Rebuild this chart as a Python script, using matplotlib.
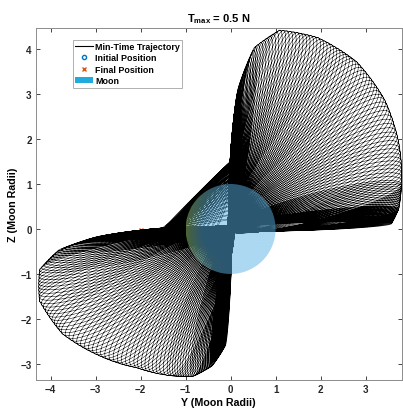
import numpy as np
import matplotlib.pyplot as plt
from matplotlib.patches import Circle, Patch
from matplotlib.lines import Line2D

plt.rcParams['font.family'] = ['Liberation Sans', 'DejaVu Sans']
plt.rcParams['font.weight'] = 'bold'
plt.rcParams['mathtext.fontset'] = 'custom'
plt.rcParams['mathtext.bf'] = 'Liberation Sans:bold'
plt.rcParams['mathtext.rm'] = 'Liberation Sans:bold'

# far tip of each revolution, read off the outer envelope (Moon radii)
# loop number at which the tip passes each point, and the loop half-width there
upper_loop = [0, 12, 25, 36, 44, 55, 67, 78, 88, 98, 112, 132]
upper_tip_y = [0.03, 0.08, 0.20, 0.55, 1.10, 1.95, 2.80, 3.42, 3.74, 3.80, 3.74, 3.58]
upper_tip_z = [1.50, 2.30, 3.20, 4.05, 4.42, 4.25, 3.72, 2.88, 1.90, 1.00, 0.45, 0.12]
upper_halfw = [0.05, 0.07, 0.10, 0.16, 0.24, 0.34, 0.42, 0.44, 0.40, 0.30, 0.18, 0.09]

lower_loop = [0, 12, 24, 33, 41, 50, 60, 69, 78, 87, 96, 108, 125]
lower_tip_y = [-1.55, -2.20, -3.10, -3.85, -4.25, -4.25, -3.75, -2.95, -2.10, -1.35, -0.85, -0.42, -0.12]
lower_tip_z = [0.00, -0.07, -0.22, -0.50, -0.92, -1.60, -2.32, -2.80, -3.08, -3.26, -3.28, -3.05, -2.60]
lower_halfw = [0.05, 0.07, 0.10, 0.16, 0.24, 0.34, 0.42, 0.44, 0.40, 0.32, 0.22, 0.12, 0.06]

# periapsis side of every loop, just past the Moon centre
back_reach = 0.05

# strands crossing the upper-left quadrant: start on Z=0, end on Y=0
bridge_y = [-1.50, -1.48, -1.46, -1.44, -1.42, -1.40, -1.38, -1.35, -1.32, -1.28, -1.25, -1.21,
            -1.17, -1.12, -1.07, -1.02, -0.96, -0.90, -0.82, -0.74, -0.65, -0.55, -0.44, -0.32,
            -1.49, -1.49, -1.48, -1.48, -1.47, -1.46, -1.45, -1.44, -1.42, -1.40, -1.38, -1.36]
bridge_z = [1.50, 1.50, 1.49, 1.49, 1.48, 1.47, 1.46, 1.44, 1.42, 1.40, 1.38, 1.36,
            1.33, 1.30, 1.27, 1.23, 1.19, 1.15, 1.10, 1.04, 0.98, 0.92, 0.85, 0.78,
            0.22, 0.32, 0.42, 0.52, 0.62, 0.72, 0.80, 0.88, 0.96, 1.04, 1.12, 1.20]

initial_pos = (0.03, 0.80)
final_pos = (-2.0, -0.02)
moon_radius = 1.0

t = np.linspace(0, 2 * np.pi, 180)


def loop_curve(p0, p1, hw):
    p0 = np.asarray(p0, float)
    p1 = np.asarray(p1, float)
    c = (p0 + p1) / 2
    u = (p1 - p0) / 2
    n = np.array([-u[1], u[0]]) / (np.hypot(*u) + 1e-9) * hw
    return c[:, None] + u[:, None] * np.cos(t) + n[:, None] * np.sin(t)


def lobe(loops, ty, tz, hw):
    ang = np.unwrap(np.arctan2(tz, ty))
    rad = np.hypot(ty, tz)
    xs, ys = [], []
    for k in range(loops[-1] + 1):
        a = np.interp(k, loops, ang)
        r = np.interp(k, loops, rad)
        d = np.array([np.cos(a), np.sin(a)])
        pts = loop_curve(-back_reach * d, r * d, np.interp(k, loops, hw))
        xs.append(pts[0])
        ys.append(pts[1])
    return np.concatenate(xs), np.concatenate(ys)


fig = plt.figure(figsize=(4.03, 4.10), dpi=100)
ax = fig.add_axes([0.0886, 0.0715, 0.908, 0.858])

ux, uy = lobe(upper_loop, upper_tip_y, upper_tip_z, upper_halfw)
lx, ly = lobe(lower_loop, lower_tip_y, lower_tip_z, lower_halfw)
bx, by = [], []
for a, b in zip(bridge_y, bridge_z):
    pts = loop_curve((a, 0.0), (0.0, b), 0.02)
    bx.append(pts[0])
    by.append(pts[1])
bx = np.concatenate(bx)
by = np.concatenate(by)

ax.plot(initial_pos[0], initial_pos[1], 'o', mfc='none', mec=(0, 0.447, 0.741), ms=3, zorder=1)
ax.plot(final_pos[0], final_pos[1], 'x', color=(0.85, 0.325, 0.098), ms=3, zorder=1)
ax.plot(np.r_[bx, lx, ux], np.r_[by, ly, uy], color='k', lw=0.35, zorder=2)

# moon: light blue disc over the trajectory, with transparency
g = np.linspace(-1, 1, 300)
gx, gy = np.meshgrid(g, g)
r = np.hypot(gx, gy)
rim = np.clip((r - 0.65) / 0.35, 0, 1) * np.clip(-gx / (r + 1e-9), 0, 1) ** 2
c0 = np.array([89, 177, 229]) / 255
c1 = np.array([150, 200, 110]) / 255
img = np.zeros((300, 300, 4))
img[..., :3] = c0 * (1 - rim[..., None]) + c1 * rim[..., None]
img[..., 3] = 0.5
im = ax.imshow(img, extent=[-moon_radius, moon_radius, -moon_radius, moon_radius],
               origin='lower', zorder=3, interpolation='bilinear')
im.set_clip_path(Circle((0, 0), moon_radius, transform=ax.transData))

ax.set_xlim(-4.33, 3.80)
ax.set_ylim(-3.35, 4.47)
ax.set_xticks(range(-4, 4))
ax.set_yticks(range(-3, 5))
ax.tick_params(direction='in', length=3, width=0.6, top=True, right=True,
               labelsize=7, pad=3, colors='#262626')
for s in ax.spines.values():
    s.set_color('#8c8c8c')
    s.set_linewidth(0.7)
ax.set_xlabel('Y (Moon Radii)', fontsize=7.7, fontweight='bold', labelpad=2)
ax.set_ylabel('Z (Moon Radii)', fontsize=7.7, fontweight='bold', labelpad=2)
ax.set_title(r'$\mathbf{T_{max}}$ = 0.5 N', fontsize=8, fontweight='bold', pad=5)

handles = [Line2D([], [], color='k', lw=0.8),
           Line2D([], [], ls='none', marker='o', mfc='none', mec=(0, 0.447, 0.741), ms=3),
           Line2D([], [], ls='none', marker='x', color=(0.85, 0.325, 0.098), ms=3),
           Patch(facecolor='#22aadd', edgecolor='none')]
labels = ['Min-Time Trajectory', 'Initial Position', 'Final Position', 'Moon']
leg = ax.legend(handles, labels, loc='upper left', bbox_to_anchor=(0.101, 0.967),
                borderaxespad=0, fontsize=6.4, frameon=True, fancybox=False,
                handlelength=2.0, handletextpad=0.2, labelspacing=0.25, borderpad=0.3)
leg.get_frame().set_edgecolor('#8c8c8c')
leg.get_frame().set_linewidth(0.6)
for txt in leg.get_texts():
    txt.set_fontweight('bold')

fig.savefig('out.png', dpi=100)
